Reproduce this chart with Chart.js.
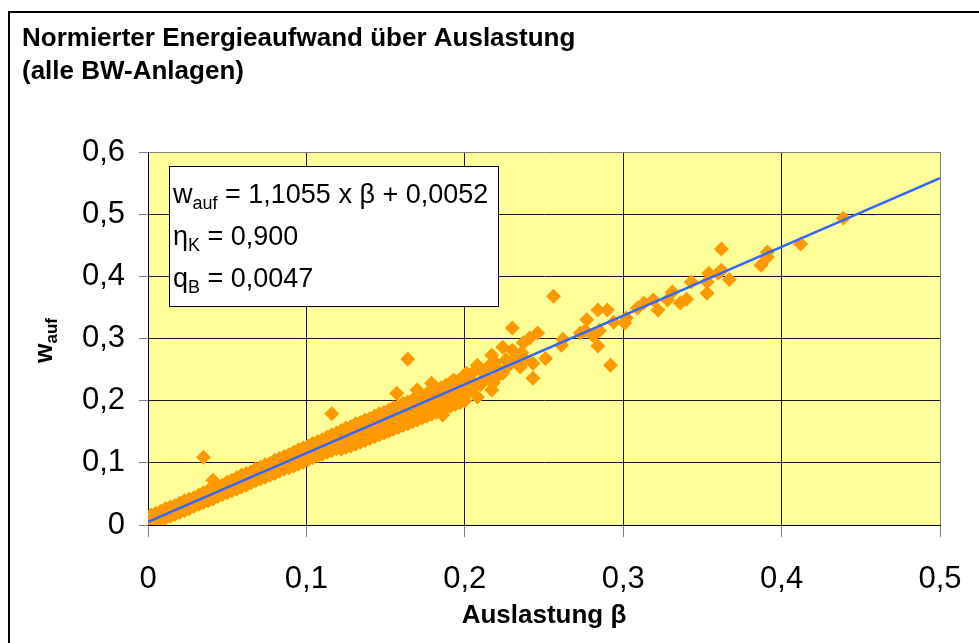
<!DOCTYPE html>
<html><head><meta charset="utf-8">
<script src="https://cdn.jsdelivr.net/npm/chart.js@4/dist/chart.umd.min.js"></script>
<style>html,body{margin:0;padding:0;background:#fff}#wrap{width:979px;height:643px;position:relative}</style>
</head><body><div id="wrap"><canvas id="c" width="979" height="643"></canvas></div>
<script>
// ---------- DATA ----------
const titleLines = ['Normierter Energieaufwand über Auslastung', '(alle BW-Anlagen)'];
const xAxisTitle = 'Auslastung β';
const yAxisTitleMain = 'w';
const yAxisTitleSub = 'auf';
const eqLines = [
  [['w', false], ['auf', true], [' = 1,1055 x β + 0,0052', false]],
  [['η', false], ['K', true], [' = 0,900', false]],
  [['q', false], ['B', true], [' = 0,0047', false]]
];

// dense band of measurements (columns along beta)
const betaCols = [0,0.002,0.005,0.008,0.011,0.014,0.017,0.020,0.023,0.026,0.029,0.032,0.035,0.038,0.041,0.044,0.047,0.050,0.053,0.056,0.059,0.062,0.065,0.068,0.071,0.074,0.077,0.080,0.083,0.086,0.089,0.092,0.095,0.098,0.101,0.104,0.107,0.110,0.113,0.116,0.119,0.122,0.125,0.128,0.131,0.134,0.137,0.140,0.143,0.146,0.149,0.152,0.155,0.158,0.161,0.164,0.167,0.170,0.173,0.176,0.179,0.182,0.185,0.188,0.191,0.194,0.197,0.200];
const wUpper = [0.012,0.016,0.019,0.022,0.026,0.029,0.031,0.035,0.039,0.042,0.044,0.048,0.052,0.055,0.059,0.062,0.064,0.069,0.072,0.076,0.080,0.083,0.085,0.090,0.093,0.097,0.099,0.104,0.107,0.110,0.113,0.117,0.121,0.124,0.127,0.131,0.134,0.137,0.141,0.145,0.148,0.152,0.156,0.158,0.163,0.165,0.169,0.171,0.175,0.179,0.181,0.185,0.189,0.191,0.196,0.198,0.201,0.206,0.208,0.211,0.216,0.218,0.221,0.225,0.229,0.231,0.234,0.238];
const wMid = [0.005,0.008,0.011,0.014,0.017,0.021,0.024,0.028,0.030,0.034,0.037,0.041,0.044,0.047,0.050,0.054,0.057,0.061,0.064,0.067,0.071,0.074,0.077,0.081,0.084,0.087,0.090,0.094,0.097,0.100,0.104,0.107,0.110,0.114,0.117,0.120,0.124,0.127,0.130,0.133,0.137,0.140,0.143,0.146,0.150,0.153,0.156,0.159,0.162,0.165,0.169,0.172,0.175,0.178,0.181,0.185,0.188,0.191,0.194,0.197,0.201,0.204,0.207,0.210,0.214,0.217,0.220,0.223];
const wLower = [0.001,0.002,0.004,0.007,0.011,0.014,0.017,0.020,0.023,0.026,0.030,0.033,0.036,0.039,0.042,0.046,0.049,0.052,0.055,0.058,0.061,0.064,0.068,0.071,0.074,0.077,0.080,0.083,0.087,0.090,0.092,0.095,0.098,0.101,0.105,0.108,0.111,0.114,0.117,0.120,0.123,0.130,0.133,0.136,0.139,0.142,0.146,0.149,0.152,0.155,0.158,0.161,0.164,0.167,0.171,0.174,0.177,0.180,0.183,0.186,0.190,0.193,0.196,0.199,0.202,0.205,0.209,0.212];
const betaWide = [0.122,0.125,0.128,0.131,0.134,0.137,0.140,0.143,0.146,0.149,0.152,0.155,0.158,0.161,0.164,0.167,0.170,0.173,0.176,0.179,0.182,0.185,0.188,0.191,0.194,0.197,0.200];
const wWide = [0.122,0.125,0.127,0.130,0.133,0.136,0.139,0.142,0.145,0.148,0.151,0.154,0.157,0.160,0.163,0.166,0.169,0.172,0.175,0.178,0.181,0.184,0.188,0.191,0.194,0.197,0.200];

// sparser measurements
const betaSparse = [0.035,0.041,0.116,0.164,0.157,0.170,0.179,0.186,0.193,0.201,0.205,0.202,0.204,0.206,0.208,0.208,0.210,0.211,0.212,0.214,0.215,0.217,0.217,0.218,0.219,0.220,0.221,0.224,0.224,0.226,0.227,0.229,0.230,0.230,0.232,0.235,0.236,0.237,0.238,0.241,0.243,0.243,0.246,0.251,0.256,0.261,0.262,0.273,0.276,0.277,0.281,0.284,0.284,0.285,0.290,0.292,0.294,0.301,0.302,0.309,0.313,0.319,0.322,0.328,0.331,0.336,0.340,0.343,0.353,0.353,0.354,0.360,0.362,0.362,0.367,0.387,0.391,0.391,0.412,0.439];
const wSparse = [0.109,0.072,0.179,0.267,0.212,0.217,0.228,0.177,0.233,0.244,0.245,0.214,0.232,0.222,0.206,0.257,0.226,0.233,0.245,0.236,0.255,0.217,0.273,0.229,0.262,0.238,0.250,0.244,0.286,0.266,0.255,0.260,0.281,0.317,0.270,0.254,0.277,0.293,0.266,0.301,0.236,0.260,0.309,0.268,0.368,0.289,0.299,0.309,0.313,0.330,0.305,0.288,0.346,0.313,0.346,0.257,0.326,0.325,0.333,0.349,0.357,0.362,0.346,0.362,0.375,0.357,0.363,0.391,0.391,0.373,0.405,0.405,0.410,0.444,0.395,0.418,0.431,0.439,0.452,0.494];

// regression line endpoints (w = 1,1055 β + 0,0052)
const trendBeta = [0, 0.5];
const trendW = [0.0052, 0.5580];

const xMin = 0, xMax = 0.5, xStep = 0.1;
const yMin = 0, yMax = 0.6, yStep = 0.1;

// ---------- BUILD ----------
const FONT = "'Liberation Sans', Arial, Helvetica, sans-serif";
const points = [];
betaCols.forEach((b, i) => {
  points.push({x: b, y: wUpper[i]}, {x: b, y: wMid[i]}, {x: b, y: wLower[i]});
});
betaWide.forEach((b, i) => points.push({x: b, y: wWide[i]}));
betaSparse.forEach((b, i) => points.push({x: b, y: wSparse[i]}));
const trend = trendBeta.map((b, i) => ({x: b, y: trendW[i]}));

const fmt = v => { const r = Math.round(v * 10) / 10; return r === 0 ? '0' : r.toFixed(1).replace('.', ','); };

function drawRich(ctx, x, y, parts, size, subSize, subDrop, weight) {
  let cx = x;
  parts.forEach(([t, sub]) => {
    ctx.font = (weight || '') + ' ' + (sub ? subSize : size) + 'px ' + FONT;
    ctx.fillText(t, cx, sub ? y + subDrop : y);
    cx += ctx.measureText(t).width;
  });
  return cx - x;
}
function measureRich(ctx, parts, size, subSize, weight) {
  let w = 0;
  parts.forEach(([t, sub]) => {
    ctx.font = (weight || '') + ' ' + (sub ? subSize : size) + 'px ' + FONT;
    w += ctx.measureText(t).width;
  });
  return w;
}

const decor = {
  id: 'decor',
  beforeDraw(chart) {
    const {ctx, chartArea: ca} = chart;
    ctx.save();
    ctx.fillStyle = '#fff';
    ctx.fillRect(0, 0, chart.width, chart.height);
    ctx.strokeStyle = '#000';
    ctx.lineWidth = 2;
    ctx.strokeRect(9, 12, chart.width + 20, chart.height + 20);
    ctx.fillStyle = '#FFFF99';
    ctx.fillRect(ca.left, ca.top, ca.right - ca.left, ca.bottom - ca.top);
    ctx.restore();
  },
  afterDraw(chart) {
    const {ctx, chartArea: ca} = chart;
    ctx.save();
    // equation box
    const bl = Math.round(ca.left + 21), bt = Math.round(ca.top + 14), bw = 329, bh = 140;
    ctx.fillStyle = '#fff';
    ctx.fillRect(bl, bt, bw, bh);
    ctx.strokeStyle = '#000';
    ctx.lineWidth = 1;
    ctx.strokeRect(bl + 0.5, bt + 0.5, bw, bh);
    ctx.fillStyle = '#000';
    ctx.textBaseline = 'alphabetic';
    ctx.textAlign = 'left';
    eqLines.forEach((parts, i) => {
      drawRich(ctx, bl + 4, bt + 37 + i * 42, parts, 27, 18, 6, '');
    });
    // y axis title (rotated, with subscript)
    const parts = [[yAxisTitleMain, false], [yAxisTitleSub, true]];
    const tw = measureRich(ctx, parts, 25, 17, 'bold');
    ctx.translate(52, (ca.top + ca.bottom) / 2 + 2);
    ctx.rotate(-Math.PI / 2);
    drawRich(ctx, -tw / 2, 0, parts, 25, 17, 5, 'bold');
    ctx.restore();
  }
};

const gridColor = (max) => (c) => (c.tick && Math.abs(c.tick.value - max) < 1e-9) ? '#808080' : '#1a1a1a';

new Chart(document.getElementById('c'), {
  type: 'scatter',
  data: {
    datasets: [
      {type: 'line', label: 'Trend', data: trend, borderColor: '#3366FF', borderWidth: 2.5, pointRadius: 0, fill: false, order: 0},
      {label: 'Messwerte', data: points, pointStyle: 'rectRot', pointRadius: 7.5, pointHoverRadius: 7.5,
       backgroundColor: '#FF9900', borderColor: '#FF9900', borderWidth: 0, order: 1}
    ]
  },
  options: {
    responsive: false,
    animation: false,
    devicePixelRatio: 1,
    layout: {padding: {left: 22, right: 39, top: 0, bottom: 0}},
    plugins: {
      legend: {display: false},
      tooltip: {enabled: false},
      title: {display: true, text: titleLines, align: 'start', color: '#000',
              font: {family: FONT, size: 26, weight: 'bold', lineHeight: 1.27},
              padding: {top: 22, bottom: 64}}
    },
    scales: {
      x: {
        type: 'linear', min: xMin, max: xMax,
        ticks: {stepSize: xStep, callback: fmt, color: '#000', font: {family: FONT, size: 31}, padding: 24, maxRotation: 0},
        grid: {color: gridColor(xMax), lineWidth: 1, tickLength: 12, tickColor: '#808080'},
        border: {color: '#000', width: 1},
        title: {display: true, text: xAxisTitle, color: '#000', font: {family: FONT, size: 26, weight: 'bold'}, padding: {top: 0, bottom: 12}},
        afterFit(s) { s.height = 118; s.paddingLeft = 0; s.paddingRight = 0; }
      },
      y: {
        type: 'linear', min: yMin, max: yMax,
        ticks: {stepSize: yStep, callback: fmt, color: '#000', font: {family: FONT, size: 31}, padding: 14},
        grid: {color: gridColor(yMax), lineWidth: 1, tickLength: 9, tickColor: '#808080'},
        border: {color: '#000', width: 1},
        afterFit(s) { s.width = 126; }
      }
    }
  },
  plugins: [decor]
});
</script></body></html>
